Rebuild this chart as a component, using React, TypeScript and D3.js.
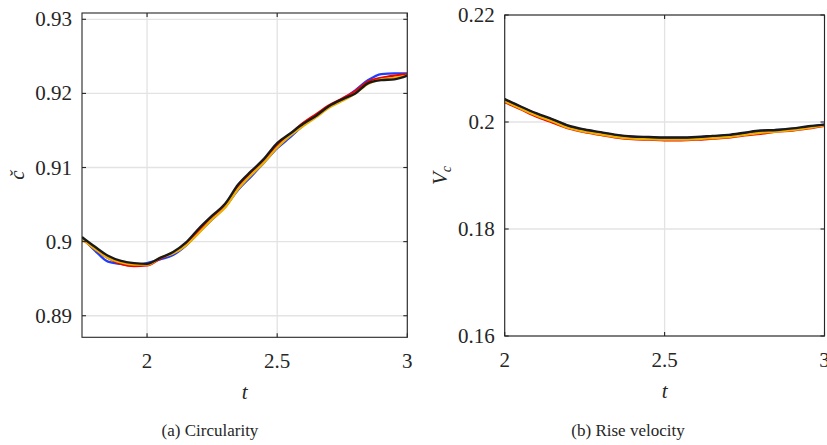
import React, { useEffect, useRef } from "react";
import * as d3 from "d3";

// ---- Data ----
const tCirc = [1.75, 1.8, 1.85, 1.9, 1.95, 2.0, 2.05, 2.1, 2.15, 2.2, 2.25, 2.3, 2.35, 2.4, 2.45, 2.5, 2.55, 2.6, 2.65, 2.7, 2.75, 2.8, 2.85, 2.9, 2.95, 3.0];
const circBlue = [0.9006, 0.8988, 0.8973, 0.897, 0.8968, 0.8971, 0.8976, 0.8982, 0.8995, 0.9013, 0.903, 0.9047, 0.907, 0.9088, 0.9107, 0.9126, 0.9141, 0.9157, 0.917, 0.9182, 0.9192, 0.9204, 0.9218, 0.9226, 0.9227, 0.9227];
const circRed = [0.9004, 0.899, 0.8978, 0.897, 0.8967, 0.8968, 0.8977, 0.8985, 0.8997, 0.9015, 0.9032, 0.9049, 0.9074, 0.9092, 0.911, 0.913, 0.9145, 0.916, 0.9172, 0.9184, 0.9193, 0.9203, 0.9216, 0.9221, 0.9224, 0.9226];
const circYellow = [0.9004, 0.899, 0.8978, 0.8972, 0.8969, 0.8969, 0.8978, 0.8984, 0.8995, 0.9012, 0.903, 0.9046, 0.9071, 0.909, 0.9107, 0.9127, 0.9143, 0.9156, 0.9168, 0.9181, 0.919, 0.92, 0.9213, 0.9219, 0.9221, 0.9224];
const circBlack = [0.9006, 0.8993, 0.8981, 0.8974, 0.8971, 0.897, 0.8978, 0.8986, 0.8999, 0.9018, 0.9035, 0.9051, 0.9077, 0.9095, 0.9112, 0.9133, 0.9146, 0.9159, 0.917, 0.9183, 0.9192, 0.92, 0.9214, 0.9218, 0.9219, 0.9224];

const tVel = [2.0, 2.05, 2.1, 2.15, 2.2, 2.25, 2.3, 2.35, 2.4, 2.45, 2.5, 2.55, 2.6, 2.65, 2.7, 2.75, 2.8, 2.85, 2.9, 2.95, 3.0];
const velBlack = [0.2043, 0.2029, 0.2016, 0.2005, 0.1993, 0.1986, 0.1981, 0.1976, 0.1973, 0.1972, 0.1971, 0.1971, 0.1972, 0.1974, 0.1976, 0.198, 0.1984, 0.1985, 0.1988, 0.1992, 0.1995];
const velBlue = [0.2042, 0.2028, 0.2015, 0.2004, 0.1992, 0.1985, 0.198, 0.1975, 0.1972, 0.1971, 0.197, 0.197, 0.1971, 0.1973, 0.1975, 0.1979, 0.1983, 0.1985, 0.1987, 0.1991, 0.1995];
const velRed = [0.2037, 0.2024, 0.201, 0.1999, 0.1988, 0.1981, 0.1976, 0.1971, 0.1968, 0.1967, 0.1966, 0.1966, 0.1967, 0.1969, 0.1971, 0.1975, 0.1978, 0.1982, 0.1984, 0.1988, 0.1993];
const velYellow = [0.2039, 0.2025, 0.2012, 0.2001, 0.1989, 0.1982, 0.1977, 0.1972, 0.1969, 0.1968, 0.1967, 0.1967, 0.1968, 0.197, 0.1972, 0.1976, 0.198, 0.1982, 0.1985, 0.1989, 0.1994];

const circYTicks = [0.89, 0.9, 0.91, 0.92, 0.93];
const circXTicks = [2, 2.5, 3];
const velYTicks = [0.16, 0.18, 0.2, 0.22];
const velXTicks = [2, 2.5, 3];

const seriesColors = ["#1f3cff", "#f20000", "#edb000", "#1a1a1a"];
const FONT = "'Liberation Serif', 'DejaVu Serif', 'Times New Roman', Times, serif";
const INK = "#262626";

type PanelCfg = {
  left: number; right: number; top: number; bottom: number;
  xDomain: [number, number]; yDomain: [number, number];
  xTicks: number[]; yTicks: number[];
  times: number[]; series: number[][];
  yLabelX: number; id: string;
};

function drawPanel(svg: d3.Selection<SVGSVGElement, unknown, null, undefined>, p: PanelCfg) {
  const x = d3.scaleLinear().domain(p.xDomain).range([p.left, p.right]);
  const y = d3.scaleLinear().domain(p.yDomain).range([p.bottom, p.top]);
  const g = svg.append("g");
  const w = p.right - p.left, h = p.bottom - p.top;
  g.selectAll("line.gx").data(p.xTicks).join("line")
    .attr("x1", (d) => x(d)).attr("x2", (d) => x(d)).attr("y1", p.top).attr("y2", p.bottom)
    .attr("stroke", "#e3e3e3").attr("stroke-width", 1.3);
  g.selectAll("line.gy").data(p.yTicks).join("line")
    .attr("x1", p.left).attr("x2", p.right).attr("y1", (d) => y(d)).attr("y2", (d) => y(d))
    .attr("stroke", "#e3e3e3").attr("stroke-width", 1.3);
  svg.append("clipPath").attr("id", p.id).append("rect")
    .attr("x", p.left).attr("y", p.top).attr("width", w).attr("height", h);
  const line = d3.line<[number, number]>().x((d) => x(d[0])).y((d) => y(d[1])).curve(d3.curveMonotoneX);
  const lg = g.append("g").attr("clip-path", `url(#${p.id})`);
  p.series.forEach((s, i) => {
    lg.append("path").attr("d", line(p.times.map((t, j) => [t, s[j]] as [number, number])) || "")
      .attr("fill", "none").attr("stroke", seriesColors[i]).attr("stroke-width", 2.4).attr("stroke-linejoin", "round");
  });
  g.append("rect").attr("x", p.left).attr("y", p.top).attr("width", w).attr("height", h)
    .attr("fill", "none").attr("stroke", INK).attr("stroke-width", 1.1);
  const tl = 4;
  p.xTicks.forEach((t) => {
    g.append("line").attr("x1", x(t)).attr("x2", x(t)).attr("y1", p.bottom).attr("y2", p.bottom - tl).attr("stroke", INK).attr("stroke-width", 1.1);
    g.append("line").attr("x1", x(t)).attr("x2", x(t)).attr("y1", p.top).attr("y2", p.top + tl).attr("stroke", INK).attr("stroke-width", 1.1);
    g.append("text").attr("x", x(t)).attr("y", p.bottom + 31).attr("text-anchor", "middle")
      .style("font-family", FONT).style("font-size", "21px").attr("fill", INK).text(String(t));
  });
  p.yTicks.forEach((t) => {
    g.append("line").attr("x1", p.left).attr("x2", p.left + tl).attr("y1", y(t)).attr("y2", y(t)).attr("stroke", INK).attr("stroke-width", 1.1);
    g.append("line").attr("x1", p.right).attr("x2", p.right - tl).attr("y1", y(t)).attr("y2", y(t)).attr("stroke", INK).attr("stroke-width", 1.1);
    g.append("text").attr("x", p.left - 10).attr("y", y(t) + 7).attr("text-anchor", "end")
      .style("font-family", FONT).style("font-size", "21px").attr("fill", INK).text(String(+t.toFixed(2)));
  });
  g.append("text").attr("x", (p.left + p.right) / 2).attr("y", p.bottom + 62).attr("text-anchor", "middle")
    .style("font-family", FONT).style("font-size", "21px").style("font-style", "italic").attr("fill", INK).text("t");
  return g.append("g").attr("transform", `translate(${p.yLabelX},${(p.top + p.bottom) / 2}) rotate(-90)`);
}

export default function App() {
  const ref = useRef<SVGSVGElement>(null);
  useEffect(() => {
    if (!ref.current) return;
    const svg = d3.select(ref.current);
    svg.selectAll("*").remove();
    const la = drawPanel(svg, {
      left: 82, right: 407.3, top: 13, bottom: 337.3,
      xDomain: [1.75, 3], yDomain: [0.88709, 0.93085],
      xTicks: circXTicks, yTicks: circYTicks,
      times: tCirc, series: [circBlue, circRed, circYellow, circBlack],
      yLabelX: 24, id: "clipA",
    });
    la.append("text").attr("text-anchor", "middle").style("font-family", FONT).style("font-size", "21px")
      .style("font-style", "italic").attr("fill", INK).text("č");
    const lb = drawPanel(svg, {
      left: 504.7, right: 824.5, top: 15, bottom: 336,
      xDomain: [2, 3], yDomain: [0.16, 0.22],
      xTicks: velXTicks, yTicks: velYTicks,
      times: tVel, series: [velBlue, velRed, velYellow, velBlack],
      yLabelX: 447, id: "clipB",
    });
    const vt = lb.append("text").attr("text-anchor", "middle").style("font-family", FONT).style("font-size", "21px")
      .style("font-style", "italic").attr("fill", INK);
    vt.append("tspan").text("V");
    vt.append("tspan").attr("dy", 4).style("font-size", "14px").text("c");
    svg.append("text").attr("x", 210).attr("y", 436).attr("text-anchor", "middle").style("font-family", FONT)
      .style("font-size", "17px").attr("fill", INK).text("(a) Circularity");
    svg.append("text").attr("x", 628).attr("y", 436).attr("text-anchor", "middle").style("font-family", FONT)
      .style("font-size", "17px").attr("fill", INK).text("(b) Rise velocity");
  }, []);
  return (
    <svg ref={ref} width={827} height={445} style={{ position: "absolute", left: 0, top: 0, background: "#fff", fontFamily: FONT }} />
  );
}
